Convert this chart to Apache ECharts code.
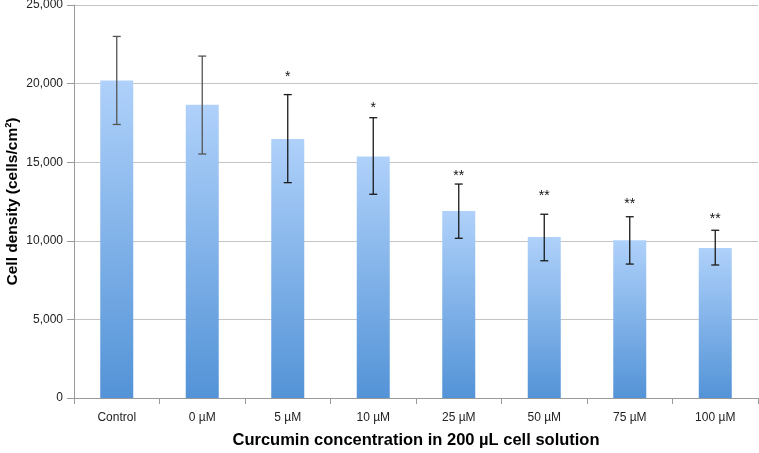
<!DOCTYPE html>
<html>
<head>
<meta charset="utf-8">
<script src="https://cdn.jsdelivr.net/npm/echarts@6/dist/echarts.min.js"></script>
<style>html,body{margin:0;padding:0;background:#fff;}#c{width:759px;height:453px;}</style>
</head>
<body>
<div id="c"></div>
<script>
const categories = ['Control', '0 µM', '5 µM', '10 µM', '25 µM', '50 µM', '75 µM', '100 µM'];
const means = [20200, 18650, 16480, 15370, 11900, 10240, 10030, 9540];
const errLow = [17400, 15520, 13700, 12960, 10160, 8730, 8520, 8460];
const errHigh = [23000, 21750, 19300, 17830, 13610, 11690, 11530, 10670];
const sigLabels = ['', '', '*', '*', '**', '**', '**', '**'];
const sigPos = [null, null, 20590, 18640, 14330, 13000, 12550, 11600];
const yTicks = [0, 5000, 10000, 15000, 20000, 25000];

const chart = echarts.init(document.getElementById('c'), null, {renderer: 'canvas'});
const font = '"Liberation Sans", Arial, sans-serif';

const errData = categories.map((c, i) => [i, errLow[i], errHigh[i]]);
const sigData = categories.map((c, i) => [i, sigPos[i], sigLabels[i]]).filter(d => d[2]);

chart.setOption({
  animation: false,
  backgroundColor: '#fff',
  grid: {left: 74, right: 1, top: 5, bottom: 55, containLabel: false, outerBoundsMode: 'none'},
  xAxis: {
    type: 'category',
    data: categories,
    name: 'Curcumin concentration in 200 µL cell solution',
    nameLocation: 'middle',
    nameGap: 34,
    nameMoveOverlap: false,
    nameTextStyle: {fontFamily: font, fontSize: 16.5, fontWeight: 'bold', color: '#000'},
    axisLine: {lineStyle: {color: '#9a9a9a', width: 1}},
    axisTick: {show: true, length: 6, lineStyle: {color: '#9a9a9a'}},
    axisLabel: {fontFamily: font, fontSize: 12, color: '#222', margin: 14}
  },
  yAxis: {
    type: 'value',
    min: yTicks[0],
    max: yTicks[yTicks.length - 1],
    interval: yTicks[1] - yTicks[0],
    name: 'Cell density (cells/cm²)',
    nameLocation: 'middle',
    nameGap: 53,
    nameRotate: 90,
    nameMoveOverlap: false,
    nameTextStyle: {fontFamily: font, fontSize: 15.5, fontWeight: 'bold', color: '#000'},
    axisLine: {show: true, lineStyle: {color: '#9a9a9a', width: 1}},
    axisTick: {show: true, length: 7, lineStyle: {color: '#9a9a9a'}},
    axisLabel: {fontFamily: font, fontSize: 12, color: '#222', margin: 11,
      formatter: v => v.toLocaleString('en-US')},
    splitLine: {lineStyle: {color: '#c4c4c4', width: 1}}
  },
  series: [
    {
      type: 'bar',
      data: means,
      barWidth: 33,
      itemStyle: {
        color: new echarts.graphic.LinearGradient(0, 0, 0, 1, [
          {offset: 0, color: '#AFD1FA'},
          {offset: 1, color: '#5393D7'}
        ])
      }
    },
    {
      type: 'custom',
      data: errData,
      z: 5,
      renderItem: function (params, api) {
        const i = api.value(0);
        const lo = api.coord([i, api.value(1)]);
        const hi = api.coord([i, api.value(2)]);
        const w = 4;
        const col = i < 2 ? '#555' : '#1a1a1a';
        const st = {stroke: col, lineWidth: 1.3};
        return {
          type: 'group',
          children: [
            {type: 'line', shape: {x1: hi[0], y1: hi[1], x2: lo[0], y2: lo[1]}, style: st},
            {type: 'line', shape: {x1: hi[0] - w, y1: hi[1], x2: hi[0] + w, y2: hi[1]}, style: st},
            {type: 'line', shape: {x1: lo[0] - w, y1: lo[1], x2: lo[0] + w, y2: lo[1]}, style: st}
          ]
        };
      }
    },
    {
      type: 'custom',
      data: sigData,
      z: 6,
      renderItem: function (params, api) {
        const i = api.value(0);
        const p = api.coord([i, api.value(1)]);
        return {
          type: 'text',
          style: {
            text: sigData[params.dataIndex][2],
            x: p[0], y: p[1] + 3,
            align: 'center', verticalAlign: 'middle',
            textAlign: 'center', textVerticalAlign: 'middle',
            font: '14px ' + font,
            fill: '#111'
          }
        };
      }
    }
  ]
});
</script>
</body>
</html>
